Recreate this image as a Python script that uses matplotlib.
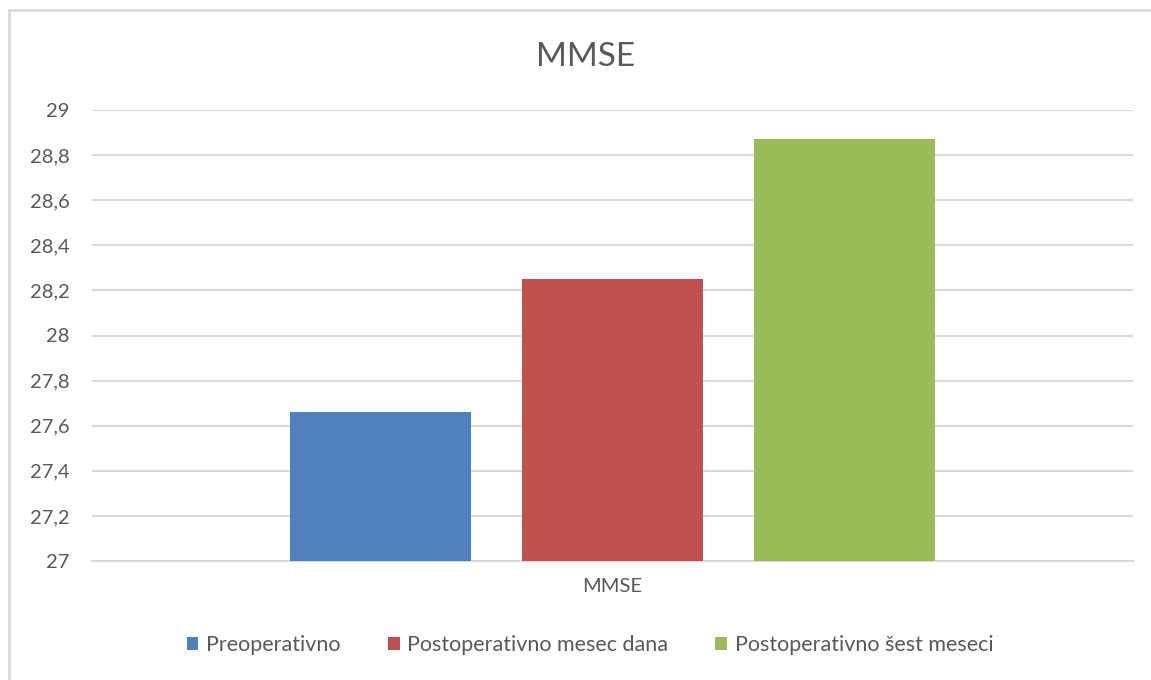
import matplotlib
matplotlib.use("Agg")
import matplotlib.pyplot as plt
from matplotlib.patches import Rectangle

# chart data
series = ["Preoperativno", "Postoperativno mesec dana", "Postoperativno šest meseci"]
values = [27.66, 28.25, 28.87]
colors = ["#4F81BD", "#C0504D", "#9BBB59"]
category = "MMSE"
yticks = [27, 27.2, 27.4, 27.6, 27.8, 28, 28.2, 28.4, 28.6, 28.8, 29]

plt.rcParams["font.family"] = ["Lato", "DejaVu Sans"]

W, H = 1151, 680
fig = plt.figure(figsize=(W / 100, H / 100), dpi=100)

# light frame round the chart area
fig.patches.append(Rectangle((9 / W, -0.1), 1.2, (H - 10) / H + 0.1,
                             transform=fig.transFigure, fill=False,
                             edgecolor="#D9D9D9", linewidth=2))

ax = fig.add_axes([92 / W, (H - 561) / H, (1133 - 92) / W, (561 - 110) / H])

offsets = [-1, 0, 1]
for off, val, col, name in zip(offsets, values, colors, series):
    ax.bar(off, val - 27, bottom=27, width=0.784, color=col, label=name, zorder=3)

ax.set_xlim(-2.244, 2.244)
ax.set_ylim(27, 29)
ax.set_yticks(yticks)
ax.set_yticklabels([f"{t:g}".replace(".", ",") for t in yticks],
                   fontsize=14.5, color="#595959")
ax.set_xticks([0])
ax.set_xticklabels([category], fontsize=14.5, color="#595959")
ax.tick_params(axis="y", length=0, pad=16)
ax.tick_params(axis="x", length=0, pad=12)
ax.grid(axis="y", color="#D9D9D9", linewidth=1.5, zorder=0)
for s in ax.spines.values():
    s.set_visible(False)
ax.spines["bottom"].set_visible(True)
ax.spines["bottom"].set_color("#D9D9D9")
ax.spines["bottom"].set_linewidth(1.5)

fig.text(586 / W, (H - 57) / H, "MMSE", fontsize=24, color="#595959",
         ha="center", va="center")

fig.legend(loc="center", bbox_to_anchor=(590 / W, (H - 645) / H), ncol=3,
           frameon=False, fontsize=15.5, handlelength=0.55, handleheight=0.55,
           handletextpad=0.35, columnspacing=2.2, labelcolor="#595959")

fig.savefig("out.png", dpi=100)
